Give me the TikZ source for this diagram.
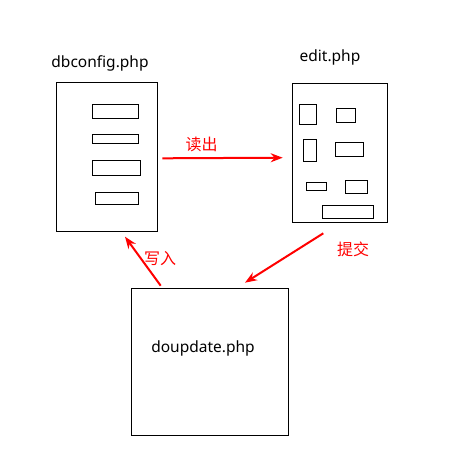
\documentclass[tikz,border=0pt]{standalone}
\usepackage{fontspec}
\setmainfont{Noto Sans}
\newfontfamily\cjk{Noto Sans CJK SC}
\usetikzlibrary{arrows.meta}

\tikzset{
  page/.style={rectangle, draw, line width=1pt, inner sep=0pt},
  field/.style={draw, line width=1pt},
  fname/.style={font=\fontsize{15.5}{18}\selectfont},
  flow/.style={red, line width=2pt, -{Stealth[length=12pt,width=9pt]}},
  flowlabel/.style={red, font=\cjk\fontsize{16}{18}\selectfont}
}

\begin{document}
\begin{tikzpicture}[x=1pt,y=-1pt]
      \useasboundingbox (0,0) rectangle (458,472);
      % the three files
      \node[name=db, page, minimum width=101pt, minimum height=149pt] at (106.5,156.5){};
      \node[name=edit, page, minimum width=95pt, minimum height=139pt] at (339.8,152.8){};
      \node[name=up, page, minimum width=157pt, minimum height=147pt] at (209.8,361.8){};
      \node[name=dbname, fname] at (100,63){dbconfig.php};
      \node[name=editname, fname] at (330,57){edit.php};
      \node[name=upname, fname] at (203,348){doupdate.php};
      % fields in dbconfig.php
      \draw[field] (92.3,104.3) rectangle (138.3,118.3);
      \draw[field] (92.3,134.3) rectangle (138.3,143.3);
      \draw[field] (92.3,160) rectangle (140.7,175.3);
      \draw[field] (95.3,192.3) rectangle (138.3,204.3);
      % fields in edit.php
      \draw[field] (299.3,104.3) rectangle (316.3,124.3);
      \draw[field] (336.3,108.3) rectangle (355.3,122);
      \draw[field] (303.3,139.3) rectangle (316.3,161.3);
      \draw[field] (335.3,142.3) rectangle (363.3,156.3);
      \draw[field] (306.3,182.3) rectangle (326.3,190.3);
      \draw[field] (345.3,180.3) rectangle (367.3,193.7);
      \draw[field] (322.3,205.3) rectangle (373.3,218.3);
      % arrows
      \coordinate (rd0) at (162.3,158.3);
      \coordinate (rd1) at (282.7,157.7);
      \coordinate (tj0) at (323.3,233.3);
      \coordinate (tj1) at (245,282.7);
      \coordinate (xr0) at (160.7,285.7);
      \coordinate (xr1) at (125,236.7);
      \draw[flow] (rd0) -- (rd1);
      \draw[flow] (tj0) -- (tj1);
      \draw[flow] (xr0) -- (xr1);
      \node[name=rdlabel, flowlabel] at (201.7,144){读出};
      \node[name=tjlabel, flowlabel] at (353,249){提交};
      \node[name=xrlabel, flowlabel] at (160,258.3){写入};
   \end{tikzpicture}
\end{document}
